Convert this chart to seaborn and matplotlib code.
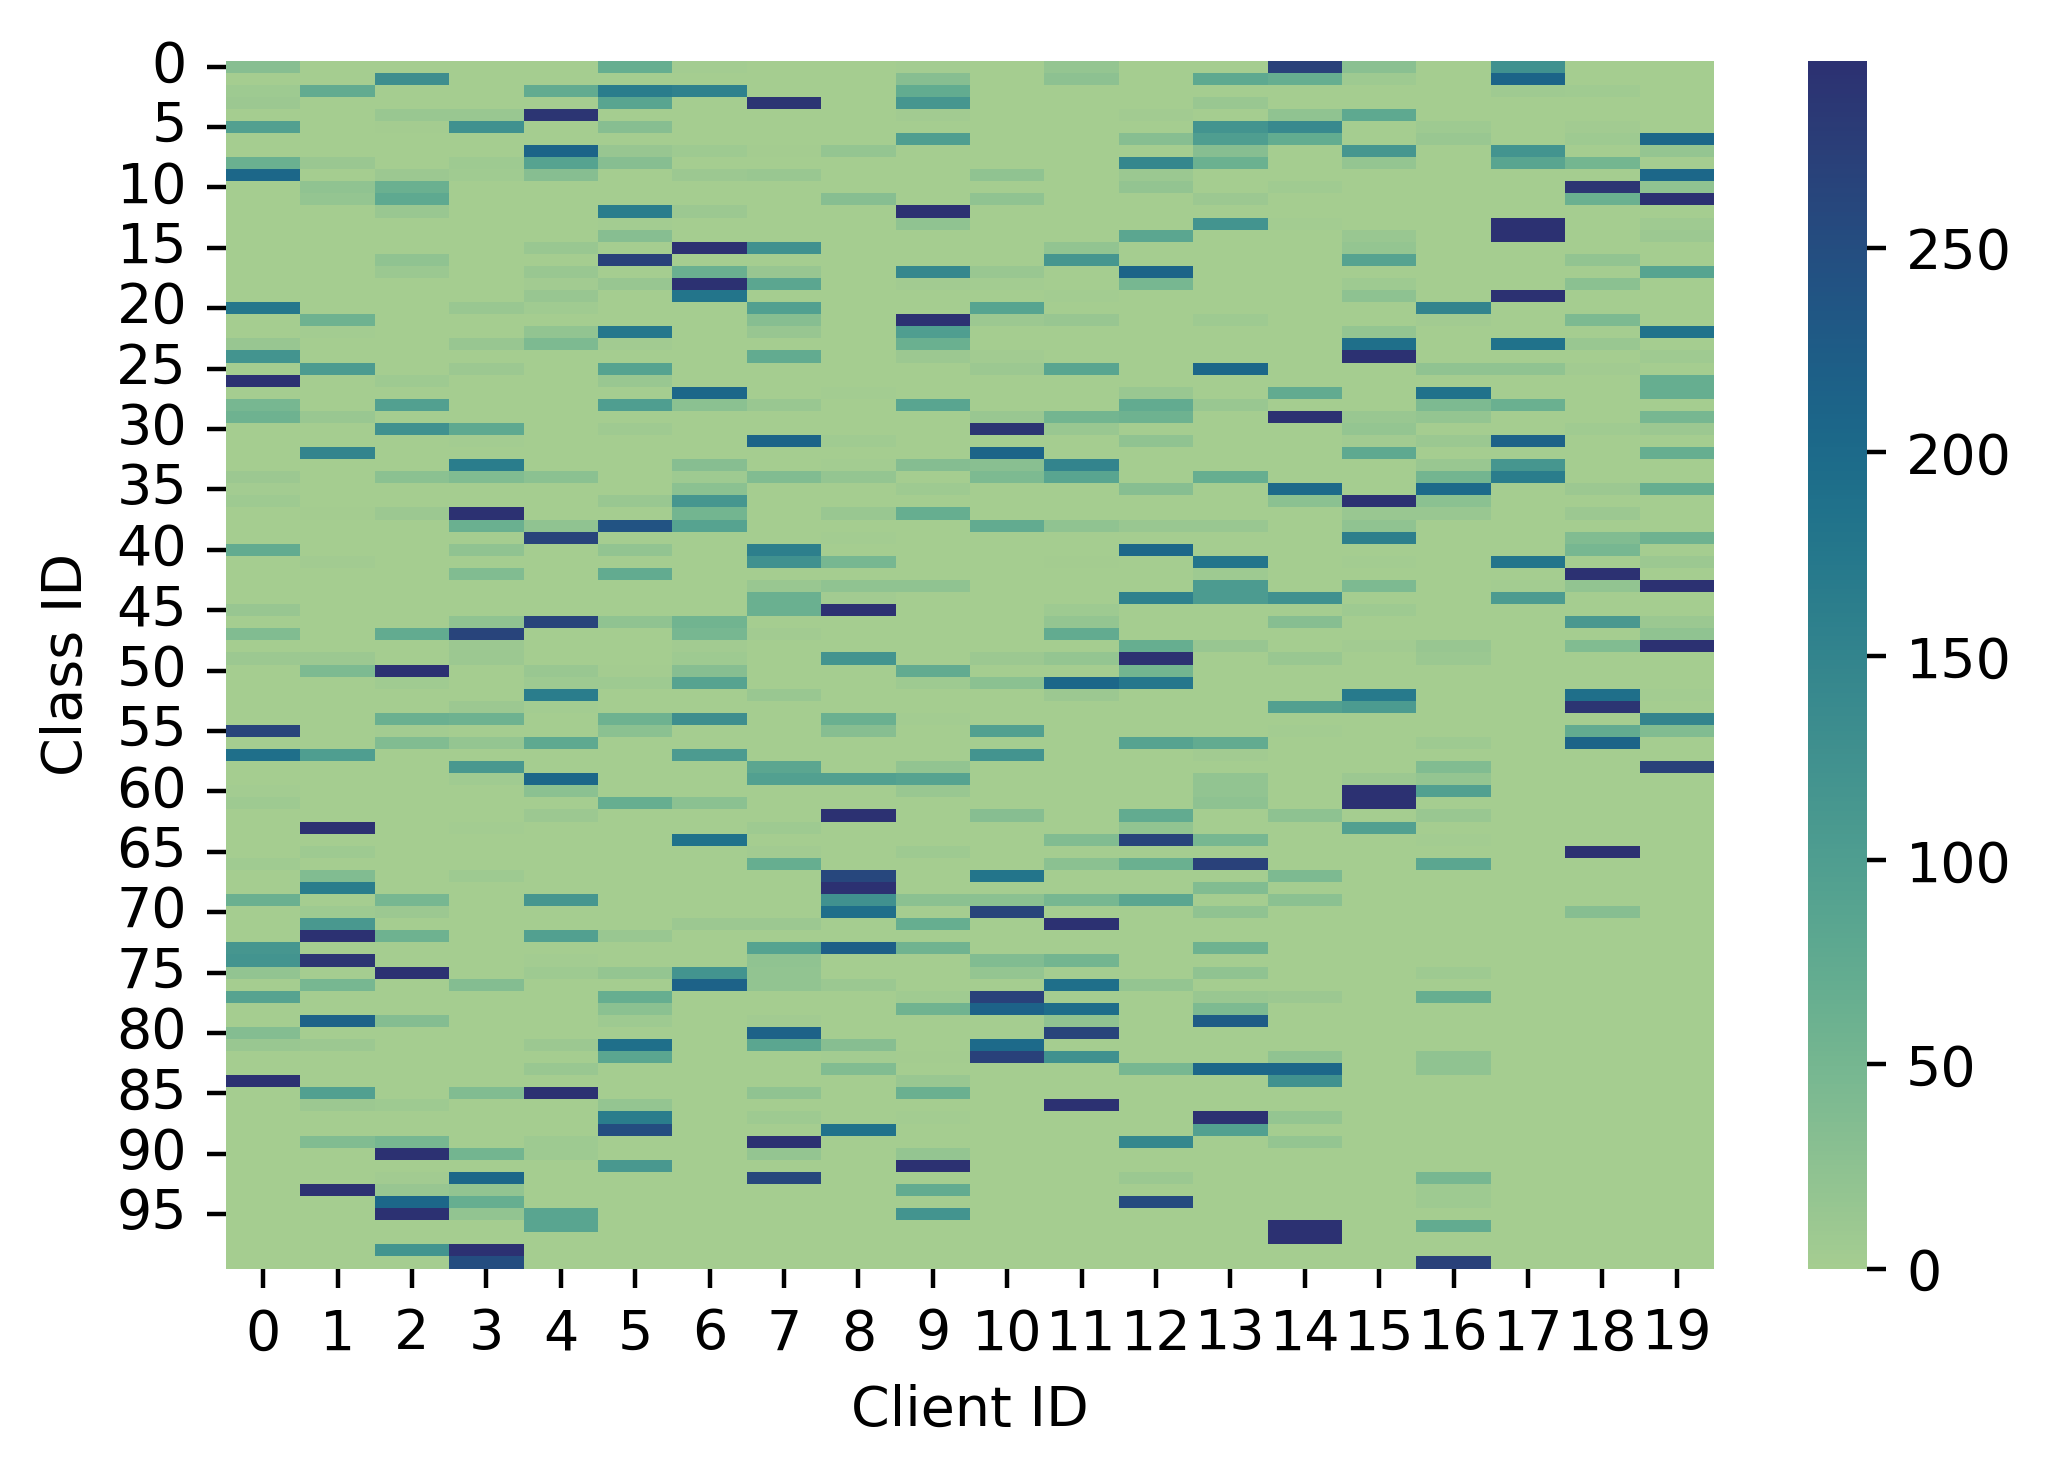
import numpy as np
import pandas as pd
import seaborn as sns
import matplotlib
matplotlib.use("Agg")
import matplotlib.pyplot as plt

# class id -> {client id: sample count}; cells that are absent are zero
classes_00_24 = {
    0: {0:32,5:68,6:3,9:3,11:18,14:270,15:28,17:125},
    1: {2:130,9:32,11:26,13:78,14:68,15:8,17:210},
    2: {0:7,1:73,4:73,5:165,6:155,9:72,17:6,18:5},
    3: {0:10,5:85,7:290,9:115,13:13},
    4: {2:13,3:13,4:290,9:4,12:4,14:22,15:78},
    5: {0:95,2:2,3:125,5:32,13:120,14:140,16:8,18:4},
    6: {9:100,12:32,13:100,14:72,16:13,18:8,19:205},
    7: {4:210,5:15,6:8,7:2,8:18,13:32,15:115,17:120,19:18},
    8: {0:63,1:12,3:7,4:90,5:32,12:145,13:62,15:18,17:85,18:52},
    9: {0:205,2:10,3:5,4:32,6:10,7:13,10:22,12:11,19:205},
    10: {1:22,2:63,12:19,14:5,18:290,19:22},
    11: {1:18,2:78,8:32,10:22,13:10,18:63,19:295},
    12: {2:13,5:165,6:10,9:295},
    13: {5:3,9:22,13:120,14:3,17:295,19:6},
    14: {5:32,8:1,12:83,15:13,17:295,19:10},
    15: {0:1,4:13,6:295,7:125,11:20,15:18},
    16: {2:22,5:270,11:115,15:90,18:20},
    17: {2:11,4:13,6:63,7:15,9:145,10:13,12:210,19:88},
    18: {4:4,5:15,6:295,7:83,9:4,10:3,12:48,15:7,18:27},
    19: {4:15,6:180,11:3,15:25,17:295},
    20: {0:175,3:13,4:5,7:95,10:88,16:150},
    21: {1:58,7:32,9:295,10:10,11:15,13:8,16:4,18:42},
    22: {1:3,4:20,5:175,7:15,9:100,15:18,19:185},
    23: {0:15,3:15,4:42,5:4,9:63,15:190,17:185,18:13},
    24: {0:120,7:73,9:10,10:4,15:295,19:6},
}
classes_25_49 = {
    25: {1:105,3:10,5:90,10:10,11:85,13:205,16:22,17:22,18:4},
    26: {0:295,2:8,5:13,19:68},
    27: {6:205,8:3,12:13,14:73,16:185,19:68},
    28: {0:48,2:95,5:100,6:27,7:13,9:85,12:73,13:13,16:42,17:63},
    29: {0:58,1:13,10:13,11:53,12:58,14:295,15:13,16:18,19:48},
    30: {2:125,3:78,5:6,10:290,11:13,15:18,18:5,19:10},
    31: {3:3,7:210,8:5,12:22,15:4,16:11,17:215},
    32: {1:150,10:210,15:78,19:68},
    33: {3:165,6:32,8:3,9:34,10:30,11:150,16:13,17:115},
    34: {0:10,2:27,3:37,4:27,6:7,7:37,8:18,10:42,11:85,13:68,16:53,17:165},
    35: {0:3,6:27,9:8,12:32,14:200,16:200,18:10,19:68},
    36: {0:7,5:13,6:115,14:27,15:295,16:27},
    37: {1:2,2:10,3:295,6:53,8:13,9:68,15:13,16:13,18:10},
    38: {3:63,4:22,5:240,6:90,10:73,11:22,12:13,13:13,15:22},
    39: {4:265,8:3,15:160,18:37,19:58},
    40: {0:73,3:22,5:20,7:160,12:205,18:48},
    41: {1:4,7:125,8:48,11:2,13:180,15:3,17:180,19:10},
    42: {3:37,5:73,13:8,18:295},
    43: {7:13,8:22,9:22,13:105,15:42,17:3,18:20,19:295},
    44: {7:63,8:4,12:155,13:105,14:125,17:105},
    45: {0:15,7:63,8:295,11:7,15:7},
    46: {3:22,4:265,5:22,6:55,10:1,11:18,14:32,18:110,19:11},
    47: {0:37,2:73,3:265,6:48,7:4,11:73,19:22},
    48: {3:10,6:4,12:68,13:15,15:4,16:15,18:37,19:295},
    49: {0:10,1:10,3:10,6:8,8:120,10:10,11:18,12:295,14:13,16:11},
}
classes_50_74 = {
    50: {1:42,2:295,4:13,5:2,6:32,9:73,12:53},
    51: {2:5,4:8,5:8,6:90,9:7,10:27,11:205,12:175},
    52: {4:165,7:13,11:10,15:170,18:190,19:3},
    53: {3:10,4:3,14:95,15:105,18:290},
    54: {2:63,3:58,5:58,6:130,8:63,9:3,19:150},
    55: {0:265,2:3,5:27,8:32,10:95,14:3,18:73,19:37},
    56: {2:37,3:18,4:78,12:90,13:73,16:8,18:210},
    57: {0:190,1:100,6:105,10:120,13:4},
    58: {3:110,7:83,9:20,16:37,19:270},
    59: {3:5,4:205,7:95,8:95,9:90,13:20,15:10,16:18},
    60: {0:3,4:27,9:13,13:20,15:295,16:95},
    61: {0:8,5:68,6:27,13:25,15:295},
    62: {4:10,8:295,10:32,12:73,14:25,16:13},
    63: {1:295,3:3,7:8,12:20,15:95},
    64: {6:185,11:37,12:265,13:48,16:3},
    65: {1:7,7:4,9:7,18:295},
    66: {0:5,7:68,11:27,12:63,13:270,16:83},
    67: {1:37,3:7,8:260,10:180,14:42},
    68: {1:165,8:295,13:37},
    69: {0:63,2:48,4:115,8:125,9:27,10:27,11:48,12:83,14:27},
    70: {1:7,2:10,8:190,10:265,13:22,18:32},
    71: {1:110,6:10,7:10,9:68,11:295},
    72: {1:295,2:58,4:95,5:13},
    73: {0:115,7:90,8:220,9:56,13:58},
    74: {0:120,1:290,4:3,7:22,10:37,11:53},
}
classes_75_99 = {
    75: {0:20,2:295,4:8,5:18,6:120,7:20,10:18,13:22,16:8},
    76: {1:48,3:35,6:215,7:20,8:11,11:190,12:18},
    77: {0:90,5:68,9:5,10:270,13:13,14:10,16:68},
    78: {5:27,9:56,10:215,11:195,13:42},
    79: {1:215,2:35,5:7,7:4,11:22,13:225},
    80: {0:35,7:215,11:265},
    81: {0:13,1:10,4:10,5:190,7:83,8:32,10:200},
    82: {5:83,8:3,9:2,10:270,11:125,14:22,16:22},
    83: {4:13,8:37,12:48,13:205,14:205,16:22},
    84: {0:295,9:13,14:125},
    85: {1:95,3:37,4:295,7:22,9:63},
    86: {1:10,2:7,5:18,11:295},
    87: {5:165,7:7,9:3,13:295,14:18},
    88: {5:250,8:185,13:95},
    89: {1:37,2:48,4:8,7:295,12:145,14:18},
    90: {2:295,3:53,4:8,7:18,9:18},
    91: {2:1,5:110,9:295},
    92: {2:4,3:205,7:260,12:11,16:48},
    93: {1:295,2:15,3:20,9:73,16:7},
    94: {2:205,3:68,12:255,16:7},
    95: {2:295,3:20,4:85,9:120},
    96: {4:85,14:295,16:73},
    97: {14:295},
    98: {2:120,3:295},
    99: {3:250,16:270},
}

class_ids = list(range(100))
client_ids = list(range(20))

table = pd.DataFrame(0, index=class_ids, columns=client_ids, dtype=float)
for block in (classes_00_24, classes_25_49, classes_50_74, classes_75_99):
    for cls, row in block.items():
        for client, count in row.items():
            table.loc[cls, client] = count

W, H = 2052, 1478
fig = plt.figure(figsize=(W / 400, H / 400), dpi=400)
ax = fig.add_axes([226 / W, 1 - 1268.5 / H, (1714 - 226) / W, (1268.5 - 60.5) / H])
cax = fig.add_axes([1808 / W, 1 - 1268.5 / H, (1867 - 1808) / W, (1268.5 - 60.5) / H])

sns.heatmap(table, cmap="crest", vmin=0, vmax=296, ax=ax, cbar_ax=cax,
            xticklabels=1, yticklabels=5)
ax.set_xlabel("Client ID")
ax.set_ylabel("Class ID")
ax.tick_params(axis="y", labelrotation=0)
ax.tick_params(axis="x", labelrotation=0)

fig.savefig("out.png", dpi=400)
